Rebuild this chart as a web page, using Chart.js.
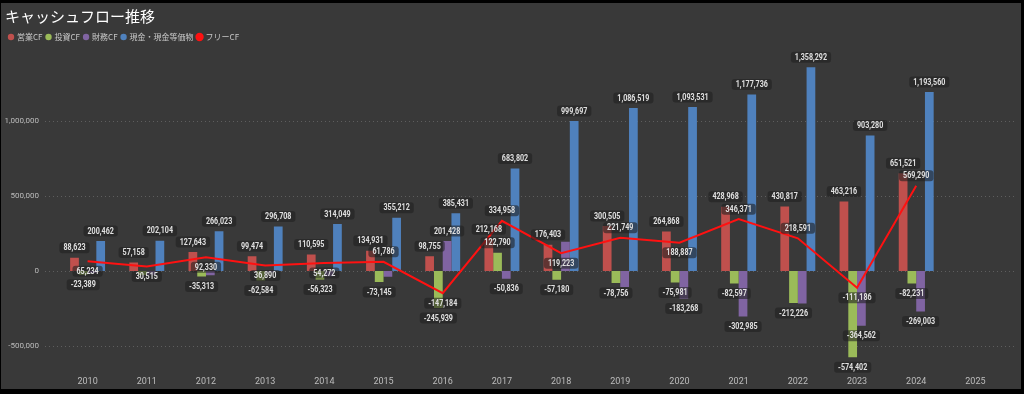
<!DOCTYPE html>
<html>
<head>
<meta charset="utf-8">
<script src="https://cdn.jsdelivr.net/npm/chart.js@4"></script>
<style>
  html, body { margin: 0; padding: 0; background: #000; }
  .panel { position: absolute; left: 1px; top: 3px; width: 1020px; height: 386px; background: #393939; }
</style>
</head>
<body>
<div class="panel"><canvas id="cfChart"></canvas></div>
<script>
const years = ['2010', '2011', '2012', '2013', '2014', '2015', '2016', '2017', '2018', '2019', '2020', '2021', '2022', '2023', '2024', '2025'];
const operatingCF = [88623, 57158, 127643, 99474, 110595, 134931, 98755, 212168, 176403, 300505, 264868, 428968, 430817, 463216, 651521, null];
const investingCF = [-23389, -26643, -35313, -62584, -56323, -73145, -245939, 122790, -57180, -78756, -75981, -82597, -212226, -574402, -82231, null];
const financingCF = [-12000, -25000, -27000, -8000, -35000, -38000, 201428, -50836, 196000, -105000, -183268, -302985, -215000, -364562, -269003, null];
const cashEq = [200462, 202104, 266023, 296708, 314049, 355212, 385431, 683802, 999697, 1086519, 1093531, 1177736, 1358292, 903280, 1193560, null];
const freeCF = [65234, 30515, 92330, 36890, 54272, 61786, -147184, 334958, 119223, 221749, 188887, 346371, 218591, -111186, 569290, null];
const yTicks = [-500000, 0, 500000, 1000000];

// where the free CF label sits: a = above the point, b = below
const fcfLabelSide = ['b', 'b', 'b', 'b', 'b', 'a', 'b', 'a', 'b', 'a', 'b', 'a', 'a', 'b', 'a', 'a'];

const numFont = "Roboto, 'DejaVu Sans Condensed', sans-serif";
const fmt = v => v.toLocaleString('en-US');

// dotted grid lines that run past the plot area like the original
const dottedGrid = {
  id: 'dottedGrid',
  beforeDatasetsDraw(chart) {
    const { ctx, scales: { y } } = chart;
    ctx.save();
    ctx.strokeStyle = '#5e5e5e';
    ctx.lineWidth = 1;
    ctx.setLineDash([1, 3]);
    yTicks.forEach(v => {
      const py = Math.round(y.getPixelForValue(v)) + 0.5;
      ctx.beginPath();
      ctx.moveTo(44, py);
      ctx.lineTo(1016, py);
      ctx.stroke();
    });
    ctx.restore();
  }
};

// value labels with dark boxes, skipping the ones that would overlap
const squeeze = 0.84;
const valueLabels = {
  id: 'valueLabels',
  afterDatasetsDraw(chart) {
    const ctx = chart.ctx;
    const placed = [];
    const h = 11;
    ctx.save();
    ctx.font = 'bold 8.5px ' + numFont;
    ctx.textAlign = 'center';
    ctx.textBaseline = 'middle';
    [4, 0, 1, 3, 2].forEach(di => {
      const meta = chart.getDatasetMeta(di);
      const data = chart.data.datasets[di].data;
      meta.data.forEach((el, i) => {
        const v = data[i];
        if (v == null) return;
        const text = fmt(v);
        const w = ctx.measureText(text).width * squeeze + 8;
        let cy;
        if (meta.type === 'line') cy = el.y + (fcfLabelSide[i] === 'a' ? -10 : 10);
        else cy = v >= 0 ? el.y - 10 : el.y + 10;
        const b = { x: el.x - w / 2, y: cy - h / 2, w, h };
        const hit = placed.some(p => b.x < p.x + p.w - 1 && p.x < b.x + b.w - 1 && b.y < p.y + p.h - 1 && p.y < b.y + b.h - 1);
        if (hit) return;
        placed.push(b);
        ctx.fillStyle = 'rgba(34, 34, 34, 0.6)';
        ctx.beginPath();
        ctx.roundRect(b.x, b.y, b.w, b.h, 3);
        ctx.fill();
        ctx.save();
        ctx.translate(el.x, cy + 0.5);
        ctx.scale(squeeze, 1);
        ctx.fillStyle = '#e0e0e0';
        ctx.fillText(text, 0, 0);
        ctx.restore();
      });
    });
    ctx.restore();
  }
};

const barStyle = { categoryPercentage: 0.59, barPercentage: 1.0, order: 1 };

new Chart(document.getElementById('cfChart'), {
  type: 'bar',
  data: {
    labels: years,
    datasets: [
      { label: '営業CF', data: operatingCF, backgroundColor: '#c0504d', ...barStyle },
      { label: '投資CF', data: investingCF, backgroundColor: '#9bbb59', ...barStyle },
      { label: '財務CF', data: financingCF, backgroundColor: '#8064a2', ...barStyle },
      { label: '現金・現金等価物', data: cashEq, backgroundColor: '#4f81bd', ...barStyle },
      {
        label: 'フリーCF', type: 'line', data: freeCF, order: 0,
        borderColor: '#ff1111', backgroundColor: '#ff1111', borderWidth: 2,
        pointRadius: 0, tension: 0, spanGaps: false
      }
    ]
  },
  options: {
    responsive: true,
    maintainAspectRatio: false,
    animation: false,
    layout: { padding: { left: 4, right: 16, top: 0, bottom: 3 } },
    plugins: {
      title: {
        display: true,
        text: 'キャッシュフロー推移',
        align: 'start',
        color: '#ffffff',
        font: { family: "'Noto Sans CJK JP', sans-serif", size: 15, weight: 'normal' },
        padding: { top: 4, bottom: 4 }
      },
      legend: {
        align: 'start',
        labels: {
          usePointStyle: true,
          pointStyle: 'circle',
          boxWidth: 4,
          boxHeight: 4.5,
          padding: 4,
          color: '#c8c8c8',
          font: { family: "'Noto Sans CJK JP', sans-serif", size: 8 },
          sort: (a, b) => a.datasetIndex - b.datasetIndex
        }
      },
      tooltip: { enabled: false }
    },
    scales: {
      x: {
        afterFit: axis => { axis.height = 20; },
        grid: { display: false, drawTicks: false },
        border: { display: false },
        ticks: { color: '#bdbdbd', padding: 11, font: { family: numFont, size: 9 } }
      },
      y: {
        min: -627000,
        max: 1467000,
        afterBuildTicks: axis => { axis.ticks = yTicks.map(v => ({ value: v })); },
        afterFit: axis => { axis.width = 53; },
        grid: { display: false, drawTicks: false },
        border: { display: false },
        ticks: { color: '#bdbdbd', padding: 19, font: { family: numFont, size: 8 }, callback: v => fmt(v) }
      }
    }
  },
  plugins: [dottedGrid, valueLabels]
});
</script>
</body>
</html>
